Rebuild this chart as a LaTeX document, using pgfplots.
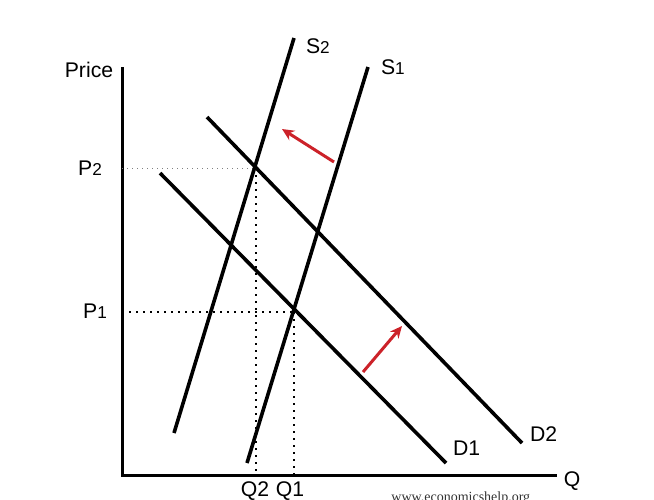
\documentclass[border=0pt]{standalone}
\usepackage{pgfplots}
\pgfplotsset{compat=1.18}
\usepackage{fontspec}
\setmainfont{Liberation Sans}
\newfontfamily\wmfont{Liberation Serif}
\usetikzlibrary{arrows.meta}
\definecolor{arrowred}{RGB}{204,34,41}
\newcommand{\sub}[1]{{\fontsize{8.6}{10}\selectfont #1}}
\begin{document}
\begin{tikzpicture}
\begin{axis}[
    name=ax,
    scale only axis,
    width=327pt, height=249.5pt,
    xmin=0, xmax=654, ymin=0, ymax=499,
    y dir=reverse,
    axis lines=none,
    clip=false,
    font=\fontsize{10.6}{12}\selectfont,
]
% axes
\addplot[black, line width=1.5pt] coordinates {(122,67) (122,475) (557,475)};
% guide lines
\addplot[gray, line width=0.5pt, dash pattern=on 0.5pt off 2pt] coordinates {(122,168) (256,168)};
\addplot[black, line width=0.9pt, dash pattern=on 0.9pt off 2.6pt] coordinates {(256,168) (256,475)};
\addplot[black, line width=0.9pt, dash pattern=on 0.9pt off 2.6pt] coordinates {(122,312) (294,312)};
\addplot[black, line width=0.9pt, dash pattern=on 0.9pt off 2.6pt] coordinates {(294,312) (294,475)};
% supply
\addplot[black, line width=1.8pt] coordinates {(174,433) (294,38)};
\addplot[black, line width=1.8pt] coordinates {(247,463) (368,67)};
% demand
\addplot[black, line width=1.8pt] coordinates {(160,173) (446,463)};
\addplot[black, line width=1.8pt] coordinates {(207,117) (522,443)};
% shifts
\addplot[arrowred, line width=1.5pt, -{Stealth[length=6pt, width=5.5pt]}] coordinates {(334,162) (282,129)};
\addplot[arrowred, line width=1.5pt, -{Stealth[length=6pt, width=5.5pt]}] coordinates {(363,372) (402,326)};
% labels
\node at (axis cs:89,70) {Price};
\node[anchor=east] at (axis cs:109,168) {P\sub{2}};
\node[anchor=east] at (axis cs:114,311) {P\sub{1}};
\node[anchor=west] at (axis cs:299,46) {S\sub{2}};
\node[anchor=west] at (axis cs:374,67) {S\sub{1}};
\node[anchor=west] at (axis cs:446,448) {D1};
\node[anchor=west] at (axis cs:523,434) {D2};
\node at (axis cs:572,481) {Q};
\node at (axis cs:255,491) {Q2};
\node at (axis cs:290,491) {Q1};
\node[anchor=north west, inner sep=0pt, text=black!80] at (axis cs:391,491) {\wmfont\fontsize{7}{8}\selectfont www.economicshelp.org};
\end{axis}
\pgfresetboundingbox
\path[use as bounding box] (ax.south west) rectangle (ax.north east);
\end{tikzpicture}
\end{document}
